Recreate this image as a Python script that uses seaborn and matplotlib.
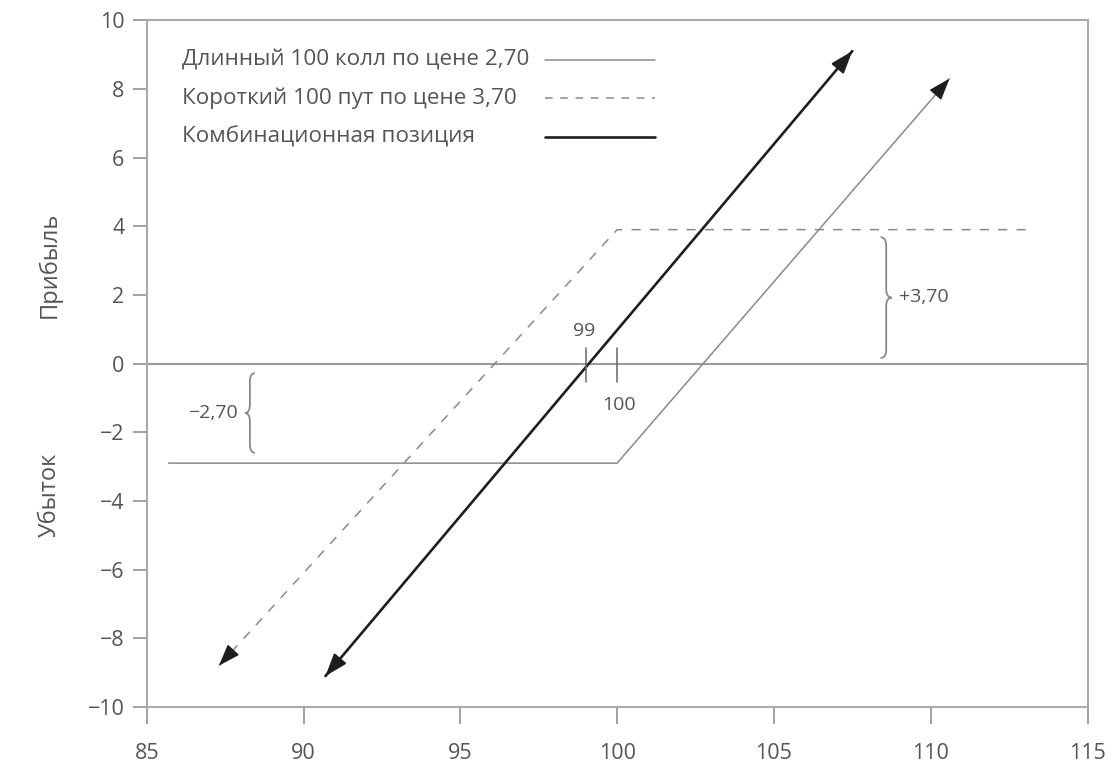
"""Payoff diagram: long 100 call + short 100 put = synthetic long position."""

import matplotlib
matplotlib.use("Agg")
import matplotlib.pyplot as plt
from matplotlib.path import Path
from matplotlib.patches import PathPatch
import seaborn as sns

# --- data ------------------------------------------------------------------
call_x = [85.7, 100.0, 110.6]
call_y = [-2.9, -2.9, 8.3]
put_x = [87.3, 100.0, 113.2]
put_y = [-8.8, 3.9, 3.9]
combo_x = [90.7, 107.5]
combo_y = [-9.1, 9.1]

legend_labels = [
    "Длинный 100 колл по цене 2,70",
    "Короткий 100 пут по цене 3,70",
    "Комбинационная позиция",
]
x_ticks = [85, 90, 95, 100, 105, 110, 115]
y_ticks = [-10, -8, -6, -4, -2, 0, 2, 4, 6, 8, 10]

GREY = "#8a8a8a"
DARK = "#1e1e1e"
TEXT = "#555555"

sns.set_theme(style="white")
plt.rcParams["font.family"] = ["Open Sans", "DejaVu Sans"]


def brace(ax, x, y0, y1, w, r, color=GREY):
    """Vertical curly brace; w > 0 points right, w < 0 points left."""
    ym = (y0 + y1) / 2
    xs = x + w / 2
    verts = [
        (x, y1), (xs, y1), (xs, y1 - r),
        (xs, ym + r),
        (xs, ym), (x + w, ym),
        (xs, ym), (xs, ym - r),
        (xs, y0 + r),
        (xs, y0), (x, y0),
    ]
    codes = [Path.MOVETO, Path.CURVE3, Path.CURVE3, Path.LINETO,
             Path.CURVE3, Path.CURVE3, Path.CURVE3, Path.CURVE3,
             Path.LINETO, Path.CURVE3, Path.CURVE3]
    ax.add_patch(PathPatch(Path(verts, codes), fill=False, edgecolor=color, lw=1.3))


def arrow_head(ax, xs, ys, i, j, lw):
    # short solid segment ending at point i, coming from point j
    dx, dy = xs[i] - xs[j], ys[i] - ys[j]
    n = (dx ** 2 + dy ** 2) ** 0.5
    back = 0.4
    ax.annotate("", xy=(xs[i], ys[i]),
                xytext=(xs[i] - dx / n * back, ys[i] - dy / n * back),
                arrowprops=dict(arrowstyle="-|>,head_length=0.85,head_width=0.3",
                                color=DARK, lw=lw, mutation_scale=16,
                                shrinkA=0, shrinkB=0))


fig = plt.figure(figsize=(11.2, 7.76), dpi=100)
ax = fig.add_axes([0.131, 0.089, 0.84, 0.885])

ax.axhline(0, color="#9a9a9a", lw=1.5, zorder=1)

sns.lineplot(x=call_x, y=call_y, sort=False, estimator=None, ax=ax,
             color=GREY, lw=1.1)
sns.lineplot(x=put_x, y=put_y, sort=False, estimator=None, ax=ax,
             color=GREY, lw=1.1, linestyle=(0, (6, 6)))
sns.lineplot(x=combo_x, y=combo_y, sort=False, estimator=None, ax=ax,
             color=DARK, lw=1.9)

arrow_head(ax, call_x, call_y, 2, 1, 1.0)
arrow_head(ax, put_x, put_y, 0, 1, 1.0)
arrow_head(ax, combo_x, combo_y, 0, 1, 1.6)
arrow_head(ax, combo_x, combo_y, 1, 0, 1.6)

# breakeven marks
ax.plot([99, 99], [0.45, -0.55], color="#666666", lw=1.1)
ax.plot([100, 100], [0.45, -0.55], color="#666666", lw=1.1)
ax.text(98.95, 0.7, "99", ha="center", va="bottom", fontsize=14, color=TEXT)
ax.text(100.05, -0.95, "100", ha="center", va="top", fontsize=14, color=TEXT)

# braces
brace(ax, 88.45, -2.6, -0.28, -0.32, 0.25)
ax.text(87.9, -1.43, "−2,70", ha="right", va="center", fontsize=14, color=TEXT)
brace(ax, 108.4, 0.16, 3.68, 0.36, 0.25)
ax.text(109.0, 1.93, "+3,70", ha="left", va="center", fontsize=14, color=TEXT)

# legend drawn by hand: text left, sample line on the right
styles = [dict(color=GREY, lw=1.1, ls="-"),
          dict(color=GREY, lw=1.1, ls=(0, (5, 5))),
          dict(color=DARK, lw=1.9, ls="-")]
for k, (lab, st) in enumerate(zip(legend_labels, styles)):
    yy = 0.942 - k * 0.056
    ax.text(0.038, yy, lab, transform=ax.transAxes, ha="left", va="center",
            fontsize=16.2, color=TEXT)
    ax.plot([0.423, 0.540], [yy, yy], transform=ax.transAxes, **st)

ax.set_xlim(85, 115)
ax.set_ylim(-10, 10)
ax.set_xticks(x_ticks)
ax.set_yticks(y_ticks)
ax.set_xlabel("")
ax.set_ylabel("")
ax.tick_params(axis="both", direction="out", length=10, width=1.1,
               color="#888888", labelcolor=TEXT, labelsize=15.5)
ax.tick_params(axis="x", length=12, pad=14)
ax.tick_params(axis="y", pad=6)
ax.tick_params(left=True, bottom=True)
for sp in ax.spines.values():
    sp.set_color("#aaaaaa")
    sp.set_linewidth(1.5)

ax.text(-0.103, 0.643, "Прибыль", transform=ax.transAxes, rotation=90,
        ha="center", va="center", fontsize=17, color=TEXT)
ax.text(-0.103, 0.309, "Убыток", transform=ax.transAxes, rotation=90,
        ha="center", va="center", fontsize=17, color=TEXT)

fig.savefig("out.png", dpi=100)
